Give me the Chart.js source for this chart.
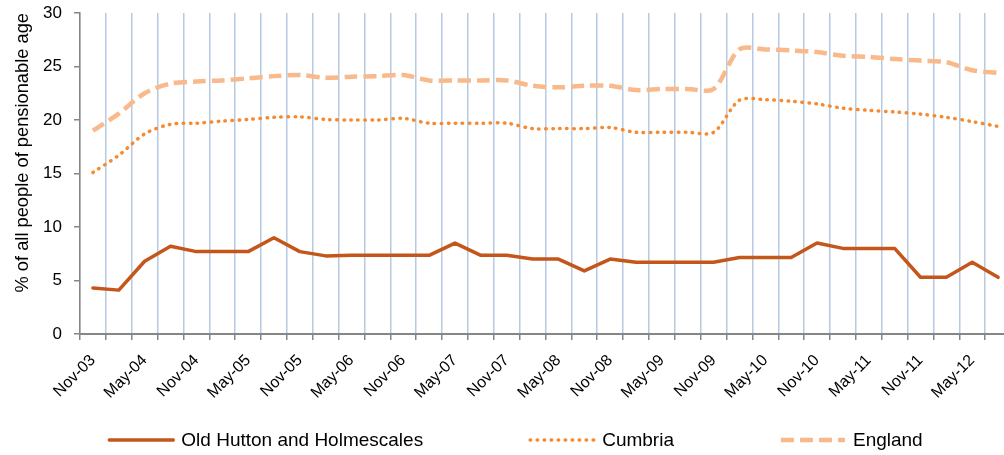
<!DOCTYPE html>
<html>
<head>
<meta charset="utf-8">
<script src="https://cdn.jsdelivr.net/npm/chart.js@4/dist/chart.umd.min.js"></script>
<style>
  html, body { margin: 0; padding: 0; background: #fff; overflow: hidden; width: 1004px; height: 455px; }
  #wrap { width: 1011px; height: 455px; }
</style>
</head>
<body>
<div id="wrap"><canvas id="c" width="1011" height="455"></canvas></div>
<script>
// ---- data ----
const categories = [
  "Nov-03","Feb-04","May-04","Aug-04","Nov-04","Feb-05","May-05","Aug-05",
  "Nov-05","Feb-06","May-06","Aug-06","Nov-06","Feb-07","May-07","Aug-07",
  "Nov-07","Feb-08","May-08","Aug-08","Nov-08","Feb-09","May-09","Aug-09",
  "Nov-09","Feb-10","May-10","Aug-10","Nov-10","Feb-11","May-11","Aug-11",
  "Nov-11","Feb-12","May-12","Aug-12"
];
const oldHutton = [4.3, 4.1, 6.8, 8.2, 7.7, 7.7, 7.7, 9.0, 7.7, 7.3, 7.35, 7.35,
  7.35, 7.35, 8.5, 7.35, 7.35, 7.0, 7.0, 5.9, 7.0, 6.7, 6.7, 6.7,
  6.7, 7.15, 7.15, 7.15, 8.5, 8.0, 8.0, 8.0, 5.3, 5.3, 6.7, 5.3];
const cumbria = [15.1, 16.7, 18.7, 19.6, 19.7, 19.9, 20.05, 20.25, 20.3, 20.05, 20.0, 20.0,
  20.15, 19.7, 19.7, 19.7, 19.7, 19.2, 19.2, 19.2, 19.3, 18.85, 18.85, 18.85,
  18.85, 21.85, 21.9, 21.75, 21.5, 21.1, 20.9, 20.75, 20.55, 20.25, 19.85, 19.4];
const england = [19.0, 20.6, 22.5, 23.4, 23.6, 23.7, 23.9, 24.1, 24.2, 23.95, 24.05, 24.1,
  24.2, 23.7, 23.7, 23.7, 23.7, 23.2, 23.05, 23.2, 23.2, 22.8, 22.9, 22.9,
  22.9, 26.6, 26.6, 26.5, 26.35, 26.0, 25.9, 25.7, 25.55, 25.4, 24.65, 24.4];
const seriesNames = ["Old Hutton and Holmescales", "Cumbria", "England"];
const yTicks = [0, 5, 10, 15, 20, 25, 30];
const yTitle = "% of all people of pensionable age";

Chart.defaults.font.family = '"Liberation Sans", Arial, sans-serif';
Chart.defaults.color = '#000';

const LEGEND_CENTER = 516;
const excelLegend = {
  id: 'excelLegend',
  afterDraw(chart) {
    const ctx = chart.ctx;
    ctx.save();
    ctx.font = '19px "Liberation Sans", Arial, sans-serif';
    const sample = 64, textGap = 8, gap = 107;
    const items = chart.data.datasets.map(ds => ({ ds, w: sample + textGap + ctx.measureText(ds.label).width }));
    const total = items.reduce((s, it) => s + it.w, 0) + gap * (items.length - 1);
    let x = LEGEND_CENTER - total / 2;
    const y = 440;
    for (const it of items) {
      const ds = it.ds;
      ctx.beginPath();
      ctx.strokeStyle = ds.borderColor;
      ctx.lineWidth = ds.borderWidth;
      ctx.setLineDash(ds.borderDash || []);
      ctx.lineCap = ds.borderCapStyle || 'butt';
      ctx.moveTo(x, y);
      ctx.lineTo(x + sample, y);
      ctx.stroke();
      ctx.setLineDash([]);
      ctx.fillStyle = '#000';
      ctx.textBaseline = 'middle';
      ctx.textAlign = 'left';
      ctx.fillText(ds.label, x + sample + textGap, y + 1);
      x += it.w + gap;
    }
    ctx.restore();
  }
};

new Chart(document.getElementById('c'), {
  type: 'line',
  data: {
    labels: categories,
    datasets: [
      { label: seriesNames[0], data: oldHutton, borderColor: '#c4561b', borderWidth: 3.5,
        pointRadius: 0, tension: 0, borderCapStyle: 'round', borderJoinStyle: 'round' },
      { label: seriesNames[1], data: cumbria, borderColor: '#f7892f', borderWidth: 3.5,
        borderDash: [0.5, 6.5], borderCapStyle: 'round', pointRadius: 0, tension: 0.3 },
      { label: seriesNames[2], data: england, borderColor: '#f9b98a', borderWidth: 4.5,
        borderDash: [13, 6], borderCapStyle: 'butt', pointRadius: 0, tension: 0.3 }
    ]
  },
  options: {
    responsive: false,
    animation: false,
    devicePixelRatio: 1,
    layout: { padding: { top: 13, right: 0, bottom: 40, left: 0 } },
    plugins: { legend: { display: false }, tooltip: { enabled: false } },
    scales: {
      x: {
        offset: true,
        grid: { offset: true, color: '#b6cae3', lineWidth: 1.5, tickColor: '#868686', tickLength: 6, drawTicks: true },
        border: { color: '#868686', width: 2 },
        ticks: {
          autoSkip: false, maxRotation: 45, minRotation: 45, padding: 11,
          font: { size: 16 }, color: '#000',
          callback: function(v, i) { return i % 2 === 0 ? categories[i] : ''; }
        },
        afterFit: s => { s.height = 81; s.paddingLeft = 0; s.paddingRight = 0; }
      },
      y: {
        min: 0, max: 30,
        afterBuildTicks: s => { s.ticks = yTicks.map(v => ({ value: v })); },
        grid: { drawOnChartArea: false, tickColor: '#868686', tickLength: 6, lineWidth: 1.5 },
        border: { color: '#868686', width: 1.5 },
        ticks: { padding: 12, font: { size: 17 }, color: '#000' },
        title: { display: true, text: yTitle, align: 'end', font: { size: 18.3 }, color: '#000', padding: { top: 12, bottom: 0 } },
        afterFit: s => { s.width = 80; s.paddingTop = 0; s.paddingBottom = 0; }
      }
    }
  },
  plugins: [excelLegend]
});
</script>
</body>
</html>
